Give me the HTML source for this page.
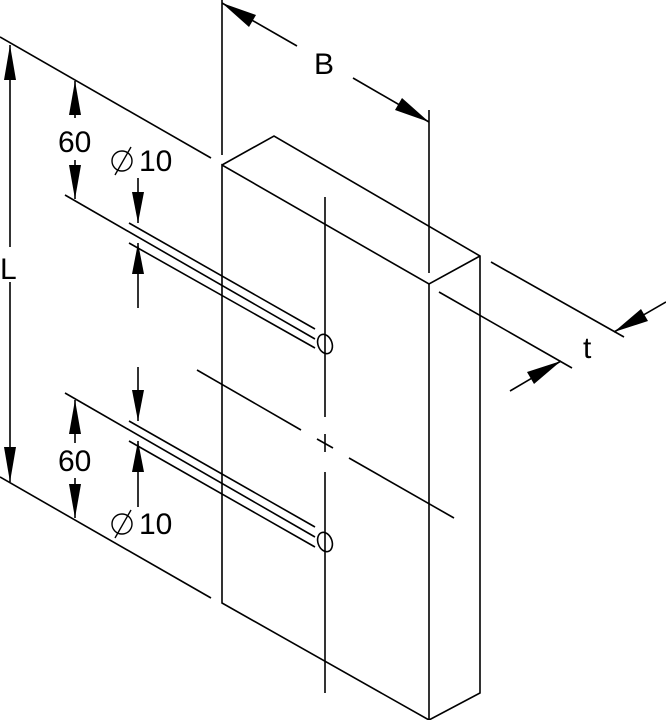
<!DOCTYPE html>
<html><head><meta charset="utf-8"><style>html,body{margin:0;padding:0;background:#fff}svg{display:block}</style></head><body>
<svg width="666" height="720" viewBox="0 0 666 720" xmlns="http://www.w3.org/2000/svg">
<g stroke="#000" stroke-width="1.6" fill="none" stroke-linecap="butt">
<polyline points="222,165 274,136 480,256 480,693 429,720 222,603 222,165 429,284 480,256"/>
<line x1="429" y1="284" x2="429" y2="720"/>
<line x1="222" y1="0" x2="222" y2="155"/>
<line x1="429" y1="110" x2="429" y2="273"/>
<line x1="222" y1="3" x2="297" y2="46"/>
<line x1="353" y1="78" x2="429" y2="122"/>
<line x1="0" y1="37" x2="211" y2="158"/>
<line x1="0" y1="477" x2="211" y2="598"/>
<line x1="10" y1="45" x2="10" y2="247"/>
<line x1="10" y1="282" x2="10" y2="482"/>
<line x1="75" y1="81" x2="75" y2="118"/>
<line x1="75" y1="160" x2="75" y2="199"/>
<line x1="75" y1="400" x2="75" y2="443"/>
<line x1="75" y1="478" x2="75" y2="518"/>
<line x1="129" y1="223" x2="315" y2="329"/>
<line x1="65" y1="195" x2="315" y2="339"/>
<line x1="129" y1="243" x2="315" y2="348"/>
<line x1="129" y1="421" x2="315" y2="527"/>
<line x1="65" y1="393" x2="315" y2="537"/>
<line x1="129" y1="441" x2="315" y2="547"/>
<ellipse cx="325" cy="344" rx="7" ry="10" transform="rotate(-20 325 344)"/>
<ellipse cx="325" cy="542" rx="7" ry="10" transform="rotate(-20 325 542)"/>
<line x1="138" y1="178" x2="138" y2="223"/>
<line x1="138" y1="243" x2="138" y2="308"/>
<line x1="138" y1="367" x2="138" y2="421"/>
<line x1="138" y1="441" x2="138" y2="507"/>
<line x1="325" y1="197" x2="325" y2="417"/>
<line x1="325" y1="434" x2="325" y2="452"/>
<line x1="325" y1="472" x2="325" y2="693"/>
<line x1="317" y1="439" x2="333" y2="448"/>
<line x1="197" y1="370" x2="301" y2="430"/>
<line x1="349" y1="458" x2="454" y2="518"/>
<line x1="491" y1="262" x2="624" y2="337"/>
<line x1="439" y1="292" x2="572" y2="368"/>
<line x1="614" y1="332" x2="666" y2="302"/>
<line x1="561" y1="361" x2="510" y2="391"/>
</g>
<g fill="#000">
<polygon points="222,3 256,15 249,27"/>
<polygon points="429,122 395,110 402,98"/>
<polygon points="10,45 4,80 16,80"/>
<polygon points="10,482 4,447 16,447"/>
<polygon points="75,81 69,115 81,115"/>
<polygon points="75,199 69,165 81,165"/>
<polygon points="75,400 69,434 81,434"/>
<polygon points="75,518 69,484 81,484"/>
<polygon points="138,223 132,192 144,192"/>
<polygon points="138,243 132,274 144,274"/>
<polygon points="138,421 132,390 144,390"/>
<polygon points="138,441 132,472 144,472"/>
<polygon points="614,332 641,309 648,321"/>
<polygon points="561,361 534,384 527,372"/>
</g>
<g font-family="Liberation Sans, sans-serif" font-size="30" fill="#000">
<text x="314" y="74">B</text>
<text x="0" y="279">L</text>
<text x="58" y="152">60</text>
<text x="58" y="471">60</text>
<text x="139" y="171">10</text>
<text x="139" y="534">10</text>
<text x="583" y="358">t</text>
</g>
<g stroke="#000" stroke-width="1.4" fill="none">
<circle cx="122" cy="161" r="10"/><line x1="115" y1="175" x2="131" y2="147"/>
<circle cx="122" cy="524" r="10"/><line x1="115" y1="538" x2="131" y2="510"/>
</g>
</svg>
</body></html>
